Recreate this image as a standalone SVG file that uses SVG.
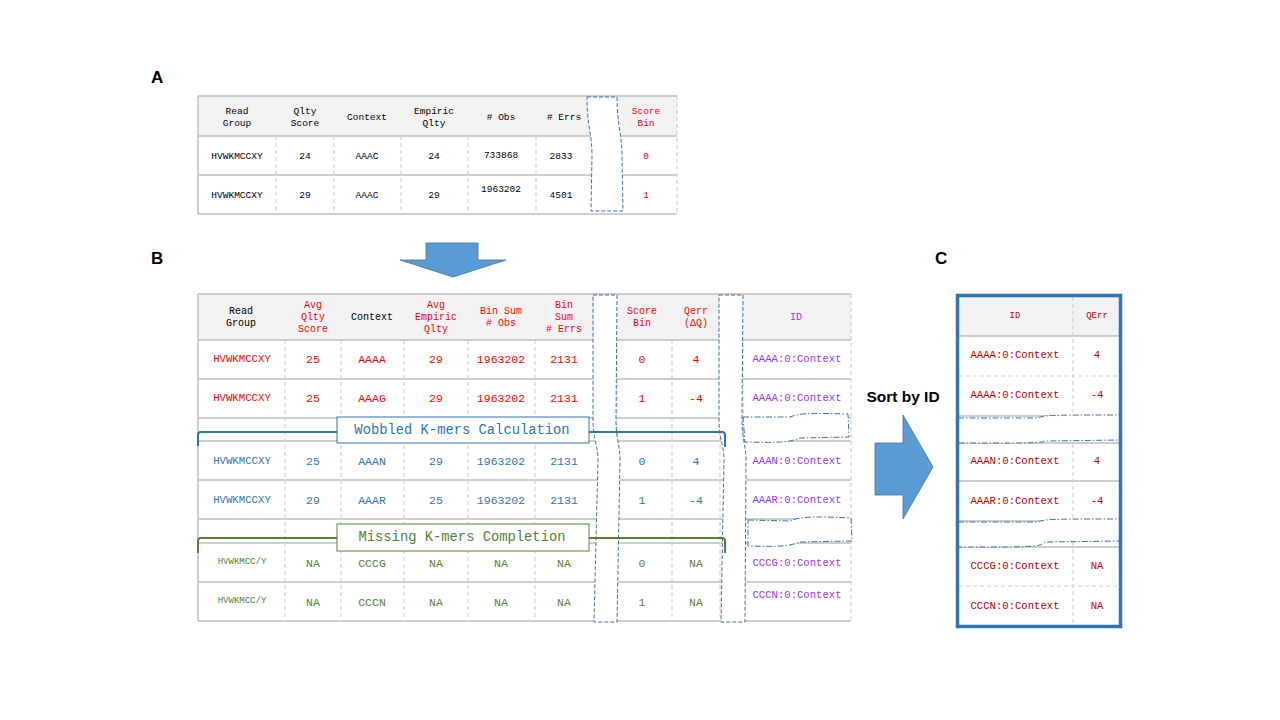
<svg xmlns="http://www.w3.org/2000/svg" width="1280" height="720" viewBox="0 0 1280 720">
<style>
.lbl{font-family:"Liberation Sans",Arial,sans-serif;font-weight:bold;font-size:17px;fill:#000}
.m{font-family:"Liberation Mono","Courier New",monospace;text-anchor:middle;dominant-baseline:central}
.a{font-size:9.5px;fill:#000}
.hb{font-size:10px}
.d{font-size:11.5px}
.k{fill:#000}.r{fill:#ff0000}.b{fill:#2e75b6}.g{fill:#548235}.p{fill:#9933ff}.dr{fill:#c00000}
.hl{stroke:#bfbfbf;stroke-width:1.5;fill:none}
.vl{stroke:#d0d0d0;stroke-width:1.2;stroke-dasharray:4 3;fill:none}
.hdr{fill:#f2f2f2}
.brk{fill:#fff;stroke:#41719c;stroke-width:1;stroke-dasharray:4 2}
.brk2{fill:#fff;stroke:#41719c;stroke-width:1;stroke-dasharray:6 2 1.5 2}
.arrow{fill:#5b9bd5;stroke:#41719c;stroke-width:0.8}
</style>

<text class="lbl" x="151" y="83">A</text>
<text class="lbl" x="151" y="264">B</text>
<text class="lbl" x="935" y="264">C</text>

<!-- Table A -->
<g id="tableA">
  <rect class="hdr" x="198" y="96" width="479" height="40"/>
  <path class="hl" d="M198,96H677M198,136H677M198,175H677M198,214H677M198,96V214"/>
  <path class="vl" d="M276,136V214M334,136V214M401,136V214M468,136V214M536,136V214M618,136V214M677,96V214"/>
  <path class="brk" d="M587,97 L617,97 C617,125 622,135 622,155 L623,211 L591,211 L592,155 C592,135 587,125 587,97 Z"/>
  <g class="m a">
    <text x="237" y="111">Read</text><text x="237" y="123">Group</text>
    <text x="305" y="111">Qlty</text><text x="305" y="123">Score</text>
    <text x="367" y="117">Context</text>
    <text x="434" y="111">Empiric</text><text x="434" y="123">Qlty</text>
    <text x="501" y="117"># Obs</text>
    <text x="564" y="117"># Errs</text>
    <text x="646" y="111" class="r">Score</text><text x="646" y="123" class="r">Bin</text>
    <text x="237" y="156">HVWKMCCXY</text><text x="305" y="156">24</text><text x="367" y="156">AAAC</text><text x="434" y="156">24</text><text x="501" y="155">733868</text><text x="561" y="156">2833</text><text x="646" y="156" class="r">0</text>
    <text x="237" y="195">HVWKMCCXY</text><text x="305" y="195">29</text><text x="367" y="195">AAAC</text><text x="434" y="195">29</text><text x="501" y="189">1963202</text><text x="561" y="195">4501</text><text x="646" y="195" class="r">1</text>
  </g>
</g>

<!-- Down arrow -->
<g id="arrowDown">
  <path class="arrow" d="M426,243 H478 V260 H506 L453,277 L400,260 H426 Z"/>
</g>

<!-- Table B -->
<g id="tableB">
  <rect class="hdr" x="198" y="294" width="653" height="46"/>
  <path class="hl" d="M198,294H851M198,340H851M198,379H851M198,418H851M198,441H851M198,480H851M198,519H851M198,543H851M198,582H851M198,621H851M198,294V621"/>
  <path class="vl" d="M285,340V621M341,340V621M404,340V621M468,340V621M535,340V621M617,340V621M672,340V621M720,340V621M743,340V621M851,294V621"/>
  <path class="brk" d="M593,295 L617,295 L616,420 C616,440 620,445 620,460 L617,622 L594,622 L598,460 C598,445 593,440 593,420 Z"/>
  <path class="brk" d="M719,295 L743,295 L742,420 C742,440 746,445 746,460 L745,622 L721,622 L724,460 C724,445 719,440 719,420 Z"/>
  <path class="brk2" d="M743,417 L790,417 C800,413 810,413 848,414 L849,437 L800,438 C790,442 780,443 745,442 Z"/>
  <path class="brk2" d="M748,520 L790,521 C800,517 810,516 851,518 L852,541 L800,542 C790,546 780,547 748,546 Z"/>
  <g class="m hb">
    <text x="241" y="311" class="k">Read</text><text x="241" y="323" class="k">Group</text>
    <text x="313" y="305" class="r">Avg</text><text x="313" y="317" class="r">Qlty</text><text x="313" y="329" class="r">Score</text>
    <text x="372" y="317" class="k">Context</text>
    <text x="436" y="305" class="r">Avg</text><text x="436" y="317" class="r">Empiric</text><text x="436" y="329" class="r">Qlty</text>
    <text x="501" y="311" class="r">Bin Sum</text><text x="501" y="323" class="r"># Obs</text>
    <text x="564" y="305" class="r">Bin</text><text x="564" y="317" class="r">Sum</text><text x="564" y="329" class="r"># Errs</text>
    <text x="642" y="311" class="r">Score</text><text x="642" y="323" class="r">Bin</text>
    <text x="696" y="311" class="r">Qerr</text><text x="696" y="323" class="r">(ΔQ)</text>
    <text x="796" y="317" class="p">ID</text>
  </g>
  <g class="m d r">
    <text x="242" y="359" font-size="10.7">HVWKMCCXY</text><text x="313" y="359">25</text><text x="372" y="359">AAAA</text><text x="436" y="359">29</text><text x="501" y="359">1963202</text><text x="564" y="359">2131</text><text x="642" y="359">0</text><text x="696" y="359">4</text>
    <text x="242" y="398" font-size="10.7">HVWKMCCXY</text><text x="313" y="398">25</text><text x="372" y="398">AAAG</text><text x="436" y="398">29</text><text x="501" y="398">1963202</text><text x="564" y="398">2131</text><text x="642" y="398">1</text><text x="696" y="398">-4</text>
  </g>
  <g class="m d b">
    <text x="242" y="461" font-size="10.7">HVWKMCCXY</text><text x="313" y="461">25</text><text x="372" y="461">AAAN</text><text x="436" y="461">29</text><text x="501" y="461">1963202</text><text x="564" y="461">2131</text><text x="642" y="461">0</text><text x="696" y="461">4</text>
    <text x="242" y="500" font-size="10.7">HVWKMCCXY</text><text x="313" y="500">29</text><text x="372" y="500">AAAR</text><text x="436" y="500">25</text><text x="501" y="500">1963202</text><text x="564" y="500">2131</text><text x="642" y="500">1</text><text x="696" y="500">-4</text>
  </g>
  <g class="m d g">
    <text x="242" y="562" font-size="9">HVWKMCC/Y</text><text x="313" y="563">NA</text><text x="372" y="563">CCCG</text><text x="436" y="563">NA</text><text x="501" y="563">NA</text><text x="564" y="563">NA</text><text x="642" y="563">0</text><text x="696" y="563">NA</text>
    <text x="242" y="601" font-size="9">HVWKMCC/Y</text><text x="313" y="602">NA</text><text x="372" y="602">CCCN</text><text x="436" y="602">NA</text><text x="501" y="602">NA</text><text x="564" y="602">NA</text><text x="642" y="602">1</text><text x="696" y="602">NA</text>
  </g>
  <g class="m p" font-size="10.6">
    <text x="797" y="359">AAAA:0:Context</text>
    <text x="797" y="398">AAAA:0:Context</text>
    <text x="797" y="461">AAAN:0:Context</text>
    <text x="797" y="500">AAAR:0:Context</text>
    <text x="797" y="563">CCCG:0:Context</text>
    <text x="797" y="595">CCCN:0:Context</text>
  </g>
</g>

<!-- Brackets -->
<g id="connectors">
  <path d="M198,446 V435 Q198,432 201,432 H722 Q725,432 725,435 V447" fill="none" stroke="#2e75b6" stroke-width="2"/>
  <path d="M198,553 V541 Q198,538 201,538 H722 Q725,538 725,541 V553" fill="none" stroke="#548235" stroke-width="2"/>
</g>

<g id="wobbledLabel">
  <rect x="337" y="417" width="252" height="26" fill="#fff" stroke="#2e75b6" stroke-width="1"/>
  <text class="m b" x="462" y="430" font-size="13.8">Wobbled K-mers Calculation</text>
</g>
<g id="missingLabel">
  <rect x="337" y="524" width="252" height="27" fill="#fff" stroke="#548235" stroke-width="1"/>
  <text class="m g" x="462" y="537" font-size="13.8">Missing K-mers Completion</text>
</g>

<!-- Sort arrow -->
<g id="sortArrow">
  <text x="903" y="402" font-family="'Liberation Sans',Arial,sans-serif" font-weight="bold" font-size="15.5" text-anchor="middle" fill="#000">Sort by ID</text>
  <path class="arrow" d="M875,443 H903 V415 L933,467 L903,519 V495 H875 Z"/>
</g>

<!-- Table C -->
<g id="tableC">
  <rect class="hdr" x="959" y="297" width="160" height="39"/>
  <path class="hl" d="M959,336H1119M959,416H1119M959,443H1119M959,481H1119M959,521H1119M959,547H1119"/>
  <path class="vl" d="M959,376H1119M959,586H1119M1073,297V625"/>
  <path class="brk2" d="M958,418 L1038,418 C1045,415 1050,415 1121,415 L1121,440 L1045,441 C1040,443 1035,443 958,443 Z"/>
  <path class="brk2" d="M958,522 L1038,522 C1045,519 1050,519 1121,519 L1121,541 L1045,542 C1040,547 1035,547 958,547 Z"/>
  <rect x="957.5" y="295.5" width="163" height="331" fill="none" stroke="#2e75b6" stroke-width="3.5"/>
  <g class="m dr">
    <text x="1015" y="316" font-size="9">ID</text>
    <text x="1097" y="316" font-size="9">QErr</text>
  </g>
  <g class="m dr" font-size="10.6">
    <text x="1015" y="355">AAAA:0:Context</text><text x="1097" y="355">4</text>
    <text x="1015" y="395">AAAA:0:Context</text><text x="1097" y="395">-4</text>
    <text x="1015" y="461">AAAN:0:Context</text><text x="1097" y="461">4</text>
    <text x="1015" y="501">AAAR:0:Context</text><text x="1097" y="501">-4</text>
    <text x="1015" y="566">CCCG:0:Context</text><text x="1097" y="566">NA</text>
    <text x="1015" y="606">CCCN:0:Context</text><text x="1097" y="606">NA</text>
  </g>
</g>
</svg>
